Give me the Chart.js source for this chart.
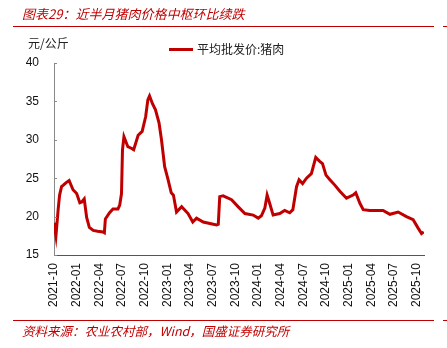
<!DOCTYPE html>
<html>
<head>
<meta charset="utf-8">
<script src="https://cdn.jsdelivr.net/npm/chart.js@4/dist/chart.umd.min.js"></script>
<style>
  html, body { margin: 0; padding: 0; background: #fff; }
  #wrap { position: relative; width: 447px; height: 348px; overflow: hidden; }
  #c { position: absolute; left: 0; top: 0; }
  .title { position: absolute; left: 22px; top: 5px; font: italic 13px "Noto Sans CJK SC", "Liberation Sans", sans-serif; color: #c00000; white-space: nowrap; line-height: 18px; }
  .rule { position: absolute; height: 1px; background: #c00000; }
  .unit { position: absolute; left: 28px; top: 35px; font: 12px "Noto Sans CJK SC", sans-serif; color: #222; line-height: 16px; }
  .legend { position: absolute; left: 169px; top: 41px; font: 12px "Noto Sans CJK SC", sans-serif; color: #222; line-height: 16px; white-space: nowrap; }
  .legend i { display: inline-block; width: 24px; height: 3px; background: #c00000; vertical-align: middle; margin-right: 4px; position: relative; top: -1px; }
  .source { position: absolute; left: 22px; top: 322px; font: italic 12.5px "Noto Sans CJK SC", "Liberation Sans", sans-serif; color: #c00000; white-space: nowrap; line-height: 18px; }
</style>
</head>
<body>
<div id="wrap">
  <canvas id="c" width="447" height="348"></canvas>
  <div class="title">图表29：近半月猪肉价格中枢环比续跌</div>
  <div class="rule" style="left:13px;top:26px;width:421px;"></div>
  <div class="rule" style="left:443px;top:26px;width:4px;"></div>
  <div class="unit">元/公斤</div>
  <div class="legend"><i></i>平均批发价:猪肉</div>
  <div class="rule" style="left:13px;top:320px;width:421px;"></div>
  <div class="rule" style="left:443px;top:320px;width:4px;"></div>
  <div class="source">资料来源：农业农村部，Wind，国盛证券研究所</div>
</div>
<script>
const seriesName = '平均批发价:猪肉';
const dates = [
 '2021-10-01','2021-10-09','2021-10-18','2021-10-24','2021-11-01','2021-11-08','2021-11-18','2021-12-01','2021-12-17',
 '2022-01-01','2022-01-14','2022-01-22','2022-02-01','2022-02-10','2022-02-20','2022-03-07','2022-03-25','2022-04-16',
 '2022-04-21','2022-04-25','2022-05-12','2022-05-26','2022-06-15','2022-06-22','2022-06-29','2022-07-03','2022-07-09',
 '2022-07-25','2022-08-08','2022-08-18','2022-09-05','2022-09-21','2022-10-05','2022-10-14','2022-10-21','2022-11-02',
 '2022-11-14','2022-11-28','2022-12-08','2022-12-21','2023-01-04','2023-01-17','2023-01-26','2023-02-07','2023-02-26',
 '2023-03-24','2023-04-12','2023-04-27','2023-05-24','2023-06-20','2023-07-17','2023-07-24','2023-07-30','2023-08-13',
 '2023-09-16','2023-10-12','2023-11-09','2023-12-12','2024-01-02','2024-01-15','2024-01-29','2024-02-07','2024-02-17',
 '2024-03-01','2024-03-28','2024-04-17','2024-05-07','2024-05-20','2024-06-04','2024-06-14','2024-06-28','2024-07-14',
 '2024-08-03','2024-08-21','2024-09-06','2024-09-17','2024-10-01','2024-10-17','2024-11-06','2024-11-26','2024-12-23',
 '2025-01-19','2025-01-30','2025-02-15','2025-02-27','2025-03-26','2025-05-18','2025-06-15','2025-07-18','2025-08-21',
 '2025-09-17','2025-10-07','2025-10-21','2025-10-30'
];
const prices = [
 19.2,17.5,20.9,22.8,23.9,24.1,24.4,24.7,23.5,
 23.0,21.8,21.9,22.3,19.9,18.6,18.2,18.1,18.0,
 17.9,19.7,20.5,21.0,21.0,21.5,23.0,28.7,30.4,
 29.1,28.9,28.7,30.6,31.1,33.0,35.2,35.7,34.7,
 33.9,32.2,30.0,26.5,24.8,23.1,22.8,20.6,21.3,
 20.4,19.3,19.8,19.3,19.1,18.9,19.0,22.6,22.7,
 22.2,21.3,20.4,20.2,19.8,20.1,21.1,22.8,21.7,
 20.2,20.4,20.8,20.5,20.9,23.9,24.8,24.3,25.0,
 25.6,27.7,27.2,26.9,25.4,24.8,24.1,23.3,22.4,
 22.8,23.1,21.7,20.9,20.8,20.8,20.3,20.6,20.0,
 19.6,18.5,17.8,18.0
];
const tickLabels = ['2021-10','2022-01','2022-04','2022-07','2022-10','2023-01','2023-04','2023-07','2023-10',
 '2024-01','2024-04','2024-07','2024-10','2025-01','2025-04','2025-07','2025-10'];
const yTicks = [15, 20, 25, 30, 35, 40];

function monthPos(s) {
  const [y, m, d] = s.split('-').map(Number);
  const dim = new Date(y, m, 0).getDate();
  return (y - 2021) * 12 + (m - 10) + (d - 1) / dim;
}
const points = dates.map((d, i) => ({ x: monthPos(d), y: prices[i] }));

const inwardTicks = {
  id: 'inwardTicks',
  afterDraw(chart) {
    const ctx = chart.ctx, ys = chart.scales.y, left = chart.chartArea.left;
    ctx.save();
    ctx.strokeStyle = '#888';
    ctx.lineWidth = 1;
    ys.ticks.forEach(t => {
      const py = Math.round(ys.getPixelForValue(t.value)) + 0.5;
      ctx.beginPath();
      ctx.moveTo(left, py);
      ctx.lineTo(left + 3, py);
      ctx.stroke();
    });
    ctx.restore();
  }
};

new Chart(document.getElementById('c'), {
  type: 'line',
  data: {
    datasets: [{
      label: seriesName,
      data: points,
      borderColor: '#c00000',
      borderWidth: 3,
      pointRadius: 0,
      tension: 0,
      fill: false
    }]
  },
  options: {
    responsive: false,
    animation: false,
    events: [],
    layout: { padding: { top: 63, right: 23, bottom: 0, left: 0 } },
    plugins: { legend: { display: false }, tooltip: { enabled: false } },
    scales: {
      x: {
        type: 'linear',
        min: 0,
        max: 48.97,
        afterBuildTicks(s) { s.ticks = tickLabels.map((_, i) => ({ value: i * 3 })); },
        afterFit(s) { s.height = 93; },
        grid: { display: false, drawTicks: false },
        border: { display: true, color: '#555', width: 1 },
        ticks: {
          autoSkip: false,
          maxRotation: 90,
          minRotation: 90,
          padding: 8,
          color: '#111',
          font: { family: '"Liberation Sans", Arial, sans-serif', size: 12 },
          callback: (v) => tickLabels[Math.round(v / 3)]
        }
      },
      y: {
        min: 15,
        max: 40,
        afterBuildTicks(s) { s.ticks = yTicks.map(v => ({ value: v })); },
        afterFit(s) { s.width = 54; },
        grid: { display: false, drawTicks: false },
        border: { display: true, color: '#888', width: 1 },
        ticks: {
          padding: 15,
          color: '#111',
          font: { family: '"Liberation Sans", Arial, sans-serif', size: 12 }
        }
      }
    }
  },
  plugins: [inwardTicks]
});
</script>
</body>
</html>
